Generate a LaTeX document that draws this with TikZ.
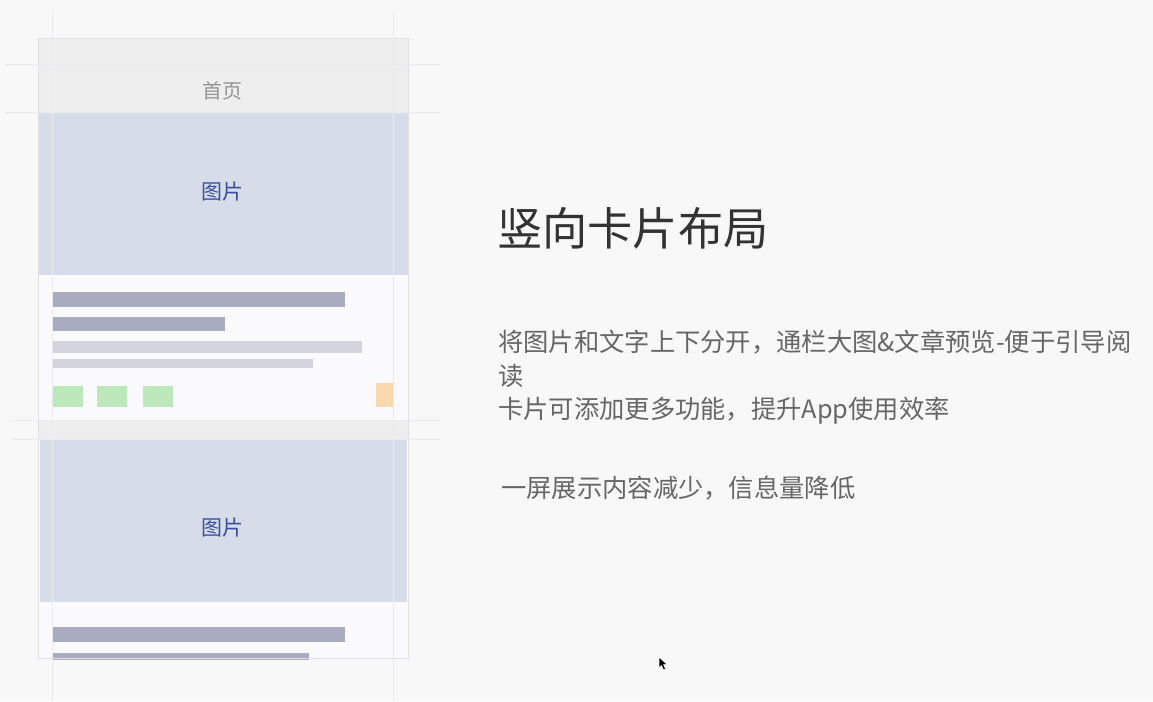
\documentclass[tikz,border=0pt]{standalone}
\usepackage{fontspec}
\setmainfont{Noto Sans CJK SC}
\usetikzlibrary{positioning}

\definecolor{bgcol}{HTML}{F8F8F9}
\definecolor{barcol}{HTML}{EEEEEE}
\definecolor{imgcol}{HTML}{D6DDE9}
\definecolor{imgtext}{HTML}{3B4FA0}
\definecolor{cardcol}{HTML}{FAFAFC}
\definecolor{darkbar}{HTML}{A9ABBE}
\definecolor{lightbar}{HTML}{D3D4DE}
\definecolor{tagcol}{HTML}{BDE8BB}
\definecolor{btncol}{HTML}{FAD9AE}
\definecolor{guidecol}{HTML}{EBEBEF}
\definecolor{framecol}{HTML}{E0E0E5}

\tikzset{
  guideline/.style={draw=guidecol, line width=0.8pt},
  imgtitle/.style={font=\fontsize{21}{24}\selectfont, text=imgtext, inner sep=0pt},
  bodytext/.style={font=\fontsize{25.3}{30}\selectfont, text=black!60, anchor=west, inner sep=0pt}
}

\begin{document}
\begin{tikzpicture}[x=1pt, y=-1pt]  % 像素坐标, y 向下

    % 背景
    \fill[bgcol] (0,0) rectangle (1153,701);
    \useasboundingbox (0,0) rectangle (1153,701);

    % 卡片区域
    \fill[cardcol] (38,38) rectangle (408,658);

    % 顶部导航栏
    \fill[barcol] (38,38) rectangle (408,112);
    \node[font=\fontsize{20}{24}\selectfont, text=black!42, inner sep=0pt] (home) at (222,91) {首页};

    % 第一张卡片的图片
    \fill[imgcol] (38,112) rectangle (408,275);
    \node[imgtitle] (pic1) at (222,192) {图片};

    % 第一张卡片的文字条
    \fill[darkbar] (53,292) rectangle (345,307); % 标题第一行
    \fill[darkbar] (53,317) rectangle (225,331); % 标题第二行
    \fill[lightbar] (53,341) rectangle (362,353); % 摘要第一行
    \fill[lightbar] (53,359) rectangle (313,368); % 摘要第二行

    % 标签和按钮
    \fill[tagcol] (53,386) rectangle (83,407);
    \fill[tagcol] (97,386) rectangle (127,407);
    \fill[tagcol] (143,386) rectangle (173,407);
    \fill[btncol] (376,383) rectangle (394,407);

    % 两张卡片之间的间隔
    \fill[barcol] (38,420) rectangle (408,439);

    % 第二张卡片的图片
    \fill[imgcol] (40,439) rectangle (407,602);
    \node[imgtitle] (pic2) at (222,528) {图片};

    % 第二张卡片的文字条
    \fill[darkbar] (53,627) rectangle (345,642);
    \fill[darkbar] (53,653) rectangle (309,660);

    % 辅助线
    \draw[guideline] (5,64) -- (440,64);
    \draw[guideline] (5,112) -- (440,112);
    \draw[guideline] (10,420) -- (440,420);
    \draw[guideline] (12,439) -- (440,439);
    \draw[guideline] (52,12) -- (52,701);
    \draw[guideline] (393,12) -- (393,701);

    % 手机边框
    \draw[framecol, line width=0.8pt] (38,38) rectangle (408,658);

    % 右侧说明文字
    \node[font=\fontsize{45.2}{50}\selectfont, text=black!80, anchor=west, inner sep=0pt] (title) at (497,228) {竖向卡片布局};
    \node[bodytext] (line1) at (498,342) {将图片和文字上下分开，通栏大图\&文章预览-便于引导阅};
    \node[bodytext] (line2) at (498,376) {读};
    \node[bodytext] (line3) at (498,411) {卡片可添加更多功能，提升App使用效率};
    \node[bodytext] (line4) at (501,488) {一屏展示内容减少，信息量降低};

    % 鼠标指针
    \filldraw[fill=black, draw=white, line width=0.5pt] (659,657) -- (659,668) -- (661.5,665.5) -- (663.5,670) -- (665.5,669) -- (663.5,664.5) -- (667,664.5) -- cycle;

\end{tikzpicture}
\end{document}
